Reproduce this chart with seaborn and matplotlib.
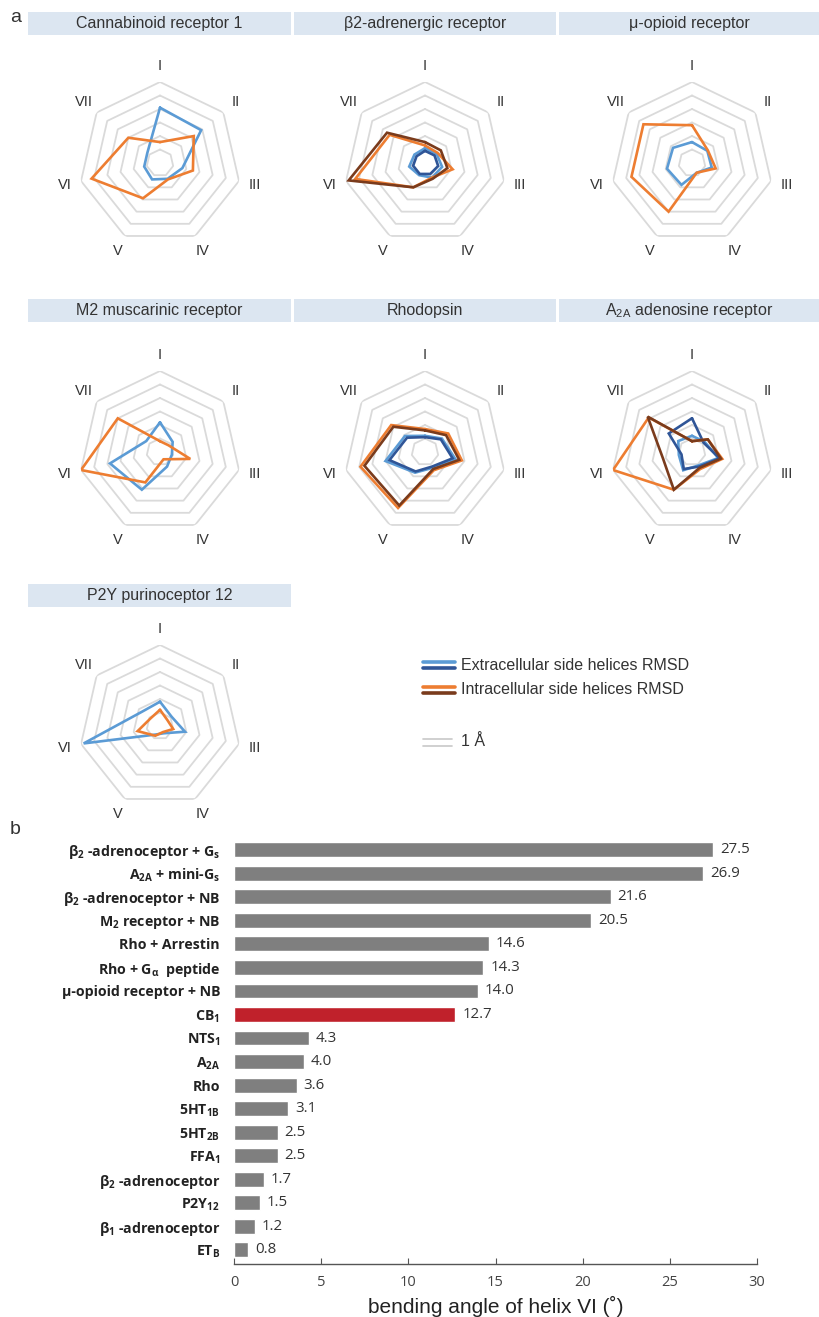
import numpy as np
import pandas as pd
import matplotlib
matplotlib.use("Agg")
import matplotlib.pyplot as plt
from matplotlib.lines import Line2D
from matplotlib.patches import Rectangle
import seaborn as sns

sns.set_theme(style="white")
plt.rcParams["font.family"] = ["Liberation Sans", "DejaVu Sans"]
plt.rcParams["mathtext.fontset"] = "custom"
plt.rcParams["mathtext.rm"] = "Open Sans"
plt.rcParams["mathtext.bf"] = "Open Sans:bold"
plt.rcParams["mathtext.it"] = "Open Sans:italic"

# ---------------- panel a: helix RMSD per receptor (Å) ----------------
helices = ["I", "II", "III", "IV", "V", "VI", "VII"]

cb1_extra = [4.1, 3.9, 1.7, 1.3, 1.35, 1.2, 1.2]
cb1_intra = [1.55, 3.2, 2.5, 1.35, 2.9, 5.2, 3.0]

b2_extra_1 = [1.1, 1.1, 1.3, 1.2, 1.0, 1.2, 1.0]
b2_extra_2 = [0.9, 0.9, 1.0, 0.9, 0.9, 0.9, 0.8]
b2_intra_1 = [1.3, 1.2, 2.1, 1.2, 2.0, 5.3, 3.35]
b2_intra_2 = [1.55, 1.5, 1.7, 1.3, 2.0, 5.8, 3.6]

mor_extra = [1.55, 1.45, 1.5, 0.8, 1.8, 1.9, 1.8]
mor_intra = [2.8, 1.5, 1.8, 0.8, 4.0, 4.6, 4.6]

m2_extra = [2.2, 1.2, 0.9, 1.2, 3.1, 3.8, 1.3]
m2_intra = [0.8, 0.8, 2.3, 0.6, 2.5, 6.0, 4.0]

rho_extra_1 = [1.2, 1.6, 2.3, 1.3, 1.7, 3.0, 1.9]
rho_extra_2 = [1.1, 1.5, 2.1, 1.2, 1.6, 2.7, 1.7]
rho_intra_1 = [1.7, 2.2, 2.8, 1.5, 4.6, 4.9, 3.2]
rho_intra_2 = [1.6, 2.0, 2.6, 1.4, 4.4, 4.6, 3.0]

a2a_extra_1 = [1.2, 1.2, 2.0, 1.1, 1.5, 1.0, 1.3]
a2a_extra_2 = [2.5, 1.1, 2.1, 1.2, 1.4, 0.8, 2.2]
a2a_intra_1 = [0.8, 1.5, 2.3, 1.4, 3.1, 6.0, 4.1]
a2a_intra_2 = [0.8, 1.5, 2.2, 1.3, 3.1, 2.2, 4.2]

p2y12_extra = [1.8, 1.1, 1.9, 0.6, 0.7, 5.8, 1.7]
p2y12_intra = [1.2, 0.7, 1.0, 0.5, 0.8, 1.7, 0.9]

# ---------------- panel b: bending angle of helix VI ----------------
complexes = [
    r"β$_\mathbf{2}$ -adrenoceptor + G$_\mathbf{s}$",
    r"A$_\mathbf{2A}$ + mini-G$_\mathbf{s}$",
    r"β$_\mathbf{2}$ -adrenoceptor + NB",
    r"M$_\mathbf{2}$ receptor + NB",
    "Rho + Arrestin",
    r"Rho + G$_\mathbf{α}$  peptide",
    "μ-opioid receptor + NB",
    r"CB$_\mathbf{1}$",
    r"NTS$_\mathbf{1}$",
    r"A$_\mathbf{2A}$",
    "Rho",
    r"5HT$_\mathbf{1B}$",
    r"5HT$_\mathbf{2B}$",
    r"FFA$_\mathbf{1}$",
    r"β$_\mathbf{2}$ -adrenoceptor",
    r"P2Y$_\mathbf{12}$",
    r"β$_\mathbf{1}$ -adrenoceptor",
    r"ET$_\mathbf{B}$",
]
bend_angle = [27.5, 26.9, 21.6, 20.5, 14.6, 14.3, 14.0, 12.7, 4.3, 4.0,
              3.6, 3.1, 2.5, 2.5, 1.7, 1.5, 1.2, 0.8]
highlight = r"CB$_\mathbf{1}$"

# ---------------- styling ----------------
LIGHT_BLUE = "#5b9bd5"
DARK_BLUE = "#2f5597"
ORANGE = "#ed7d31"
BROWN = "#7a3b1c"
RING = "#dadada"
BAND = "#dce6f1"
TXT = "#333333"

W, H = 819, 1317
fig = plt.figure(figsize=(W / 100, H / 100), dpi=100)

R = 81
RMAX = 6
theta = np.linspace(0, 2 * np.pi, len(helices), endpoint=False)
theta_c = np.append(theta, theta[0])


def radar(cx, cy, series):
    ax = fig.add_axes([(cx - R) / W, 1 - (cy + R) / H, 2 * R / W, 2 * R / H],
                      projection="polar")
    ax.set_theta_offset(np.pi / 2)
    ax.set_theta_direction(-1)
    ax.set_ylim(0, RMAX)
    ax.grid(False)
    ax.set_xticks([])
    ax.set_yticks([])
    ax.spines["polar"].set_visible(False)
    ax.patch.set_alpha(0)
    for k in range(1, RMAX + 1):
        ax.plot(theta_c, [k] * len(theta_c), color=RING, lw=1.3, zorder=1)
    for vals, col in series:
        v = np.append(vals, vals[0])
        ax.plot(theta_c, v, color=col, lw=1.9, zorder=3,
                solid_joinstyle="miter")
    for t, lab in zip(theta, helices):
        ax.text(t, RMAX * 1.2, lab, ha="center", va="center", fontsize=10.5,
                color=TXT, clip_on=False)
    return ax


def band(x0, x1, y0, y1, title):
    fig.add_artist(Rectangle((x0 / W, 1 - y1 / H), (x1 - x0) / W, (y1 - y0) / H,
                             transform=fig.transFigure, facecolor=BAND,
                             edgecolor="none"))
    fig.text((x0 + x1) / 2 / W, 1 - (y0 + y1) / 2 / H, title, ha="center",
             va="center", fontsize=11.5, color=TXT)


cols = [(28, 291, 160), (294, 556, 425), (559, 819, 692)]
rows = [(12, 35, 163), (299, 322, 452), (584, 607, 726)]

panels = [
    ("Cannabinoid receptor 1", [(cb1_extra, LIGHT_BLUE), (cb1_intra, ORANGE)]),
    ("β2-adrenergic receptor", [(b2_extra_1, LIGHT_BLUE), (b2_extra_2, DARK_BLUE),
                                (b2_intra_1, ORANGE), (b2_intra_2, BROWN)]),
    ("μ-opioid receptor", [(mor_extra, LIGHT_BLUE), (mor_intra, ORANGE)]),
    ("M2 muscarinic receptor", [(m2_extra, LIGHT_BLUE), (m2_intra, ORANGE)]),
    ("Rhodopsin", [(rho_extra_1, LIGHT_BLUE), (rho_extra_2, DARK_BLUE),
                   (rho_intra_1, ORANGE), (rho_intra_2, BROWN)]),
    (r"A$_{\mathregular{2A}}$ adenosine receptor",
     [(a2a_extra_1, LIGHT_BLUE), (a2a_extra_2, DARK_BLUE),
      (a2a_intra_1, ORANGE), (a2a_intra_2, BROWN)]),
    ("P2Y purinoceptor 12", [(p2y12_extra, LIGHT_BLUE), (p2y12_intra, ORANGE)]),
]

for i, (title, series) in enumerate(panels):
    x0, x1, cx = cols[i % 3]
    y0, y1, cy = rows[i // 3]
    band(x0, x1, y0, y1, title)
    radar(cx, cy, series)

fig.text(10 / W, 1 - 17 / H, "a", fontsize=14, color=TXT, va="center")
fig.text(10 / W, 1 - 830 / H, "b", fontsize=14, color=TXT, va="center")

# legend for panel a
def fig_line(x0, x1, y, col, lw):
    fig.add_artist(Line2D([x0 / W, x1 / W], [1 - y / H, 1 - y / H],
                          transform=fig.transFigure, color=col, lw=lw))

fig_line(423, 455, 662, LIGHT_BLUE, 2.6)
fig_line(423, 455, 668, DARK_BLUE, 2.6)
fig_line(423, 455, 687, ORANGE, 2.6)
fig_line(423, 455, 693, BROWN, 2.6)
fig_line(423, 452, 739, "#c8c8c8", 1.2)
fig_line(423, 452, 746, "#c8c8c8", 1.2)
fig.text(461 / W, 1 - 665 / H, "Extracellular side helices RMSD", fontsize=11.5,
         color=TXT, va="center")
fig.text(461 / W, 1 - 690 / H, "Intracellular side helices RMSD", fontsize=11.5,
         color=TXT, va="center")
fig.text(461 / W, 1 - 742 / H, "1 Å", fontsize=11.5, color=TXT, va="center")

# ---------------- panel b ----------------
df = pd.DataFrame({"complex": complexes, "angle": bend_angle})
palette = {c: ("#c0212b" if c == highlight else "#7f7f7f") for c in complexes}

ax_top, ax_bot = 838, 1264
axb = fig.add_axes([234 / W, 1 - ax_bot / H, (757 - 234) / W, (ax_bot - ax_top) / H])
sns.barplot(data=df, x="angle", y="complex", hue="complex", palette=palette,
            legend=False, width=0.63, ax=axb, saturation=1)
for cont in axb.containers:
    axb.bar_label(cont, fmt="%.1f", padding=5, fontsize=10.8, color=TXT,
                  family="Open Sans")
axb.set_xlim(0, 30)
axb.set_ylim(17.6, -0.5)
axb.set_xticks(range(0, 31, 5))
axb.set_ylabel("")
axb.set_xlabel("bending angle of helix VI (˚)", fontsize=15, color="#222222",
               labelpad=4)
for s in ["top", "right", "left"]:
    axb.spines[s].set_visible(False)
axb.spines["bottom"].set_color("#555555")
axb.spines["bottom"].set_linewidth(1.0)
axb.tick_params(axis="x", direction="in", length=4, width=0.8, color="#555555",
                labelsize=10.5, labelcolor="#444444", pad=8, bottom=True)
axb.tick_params(axis="y", length=0, pad=10)
for lab in axb.get_yticklabels():
    lab.set_fontfamily("Open Sans")
    lab.set_fontweight("bold")
    lab.set_fontsize(10.2)
    lab.set_color("#222222")
for lab in axb.get_xticklabels():
    lab.set_fontfamily("Open Sans")

fig.savefig("out.png", dpi=100)
